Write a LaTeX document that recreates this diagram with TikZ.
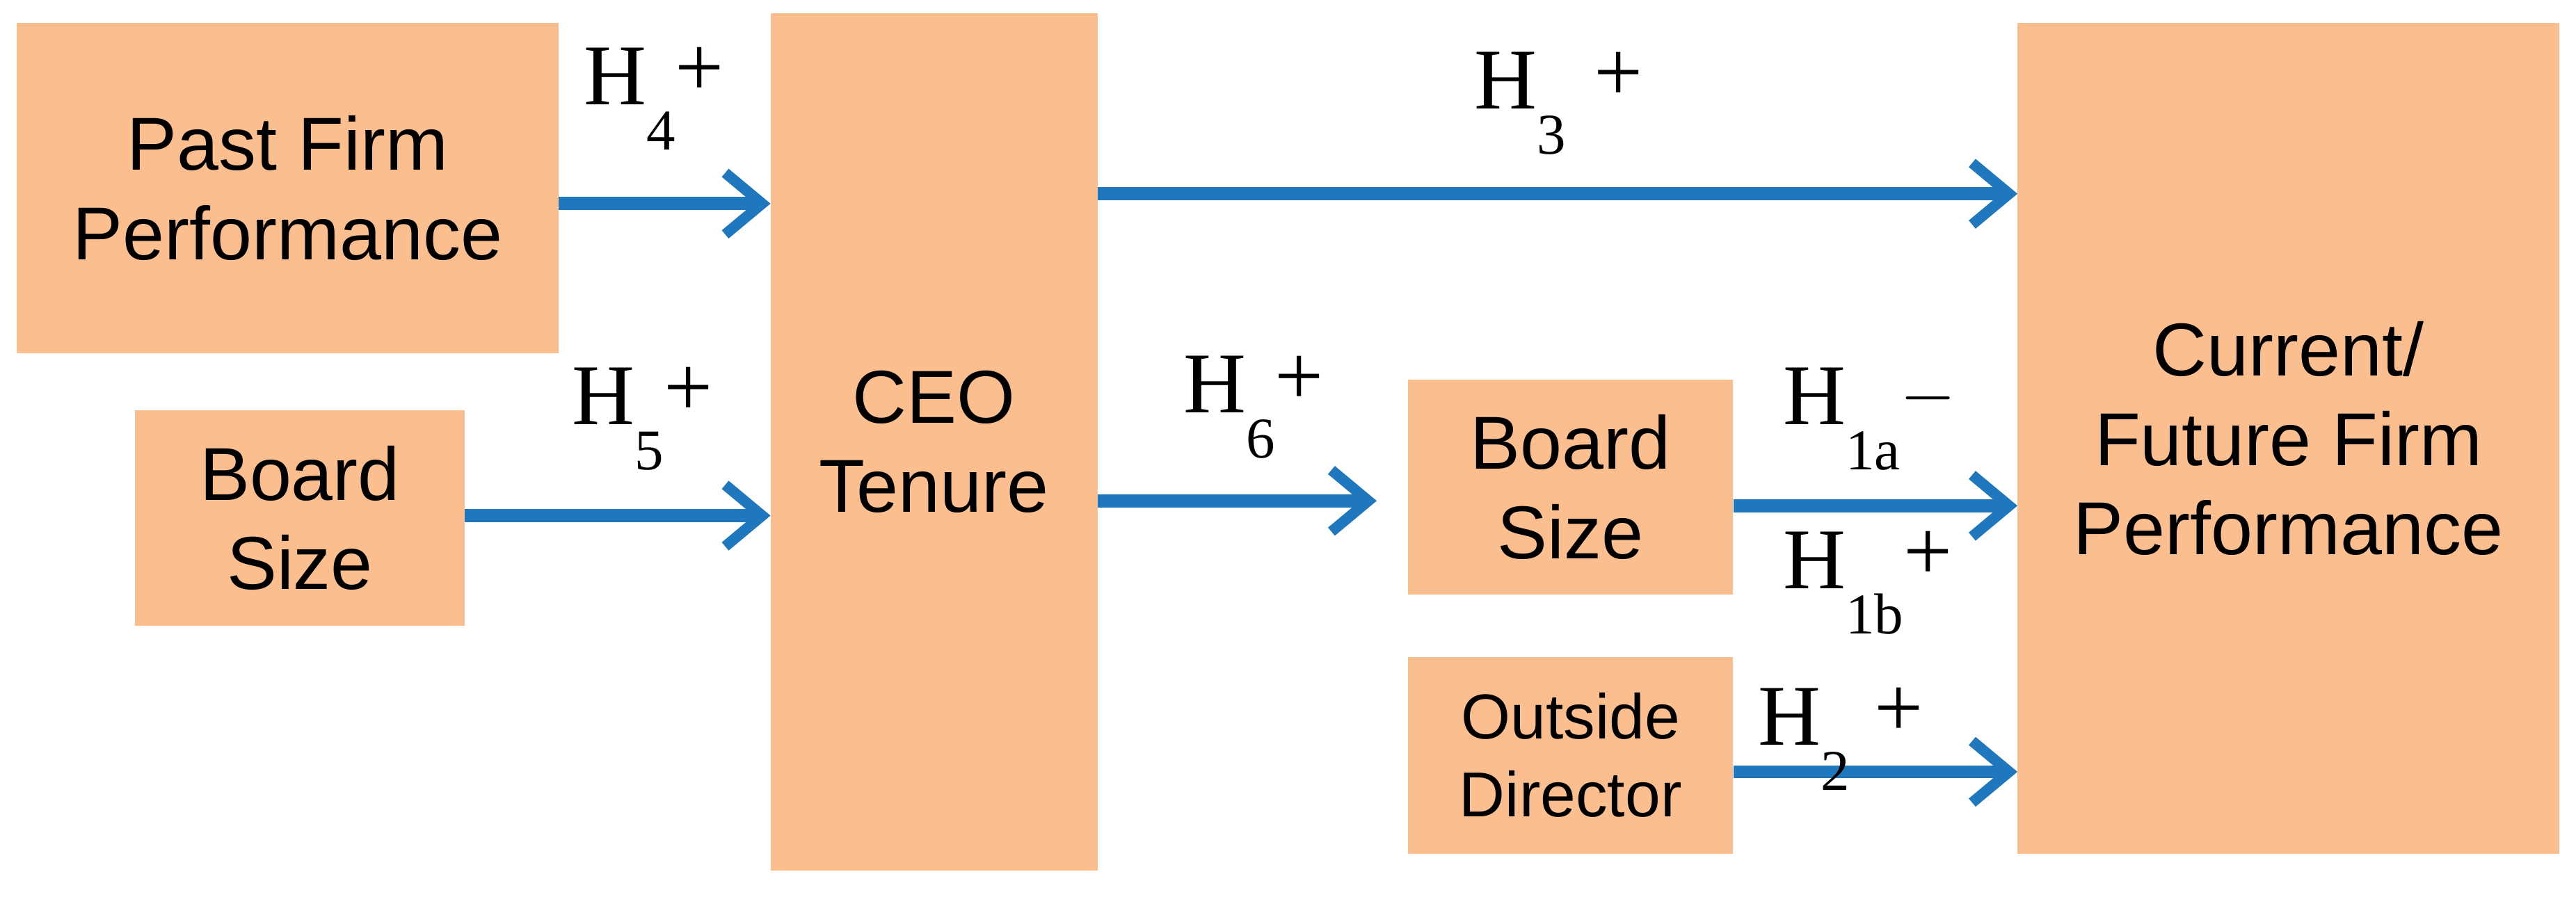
\documentclass[tikz,border=0pt]{standalone}
\usepackage{fontspec}
\setmainfont{Liberation Serif}
\newfontfamily\arial{Liberation Sans}
\begin{document}
\begin{tikzpicture}[x=0.02cm,y=-0.02cm,
 box/.style={fill={rgb,255:red,251;green,191;blue,143},draw=none,align=center,font=\arial\fontsize{26}{31}\selectfont,inner sep=0},
 arr/.style={draw={rgb,255:red,31;green,119;blue,190},line width=0.16cm,-{Straight Barb[length=0.45cm,width=0.75cm,line width=0.13cm]}},
 lab/.style={font=\fontsize{30}{30}\selectfont,inner sep=0}]
\usetikzlibrary{arrows.meta}
\useasboundingbox (0,0) rectangle (1568,546);
\newcommand{\hs}[2]{H\raisebox{-0.55cm}{\fontsize{20}{20}\selectfont #1}\raisebox{0.1cm}{#2}}
\node[box,minimum width=6.6cm,minimum height=4.02cm] (pf) at (175,114.5) {Past Firm\\Performance};
\node[box,minimum width=4.02cm,minimum height=2.62cm] (bs1) at (182.5,315.5) {Board\\Size};
\node[box,minimum width=3.98cm,minimum height=10.44cm] (ceo) at (568.5,269) {CEO\\Tenure};
\node[box,minimum width=3.96cm,minimum height=2.62cm] (bs2) at (956,296.5) {Board\\Size};
\node[box,minimum width=3.96cm,minimum height=2.4cm,font=\arial\fontsize{22}{27}\selectfont] (od) at (956,460) {Outside\\Director};
\node[box,minimum width=6.6cm,minimum height=10.12cm] (cf) at (1393,267) {Current/\\Future Firm\\Performance};
\coordinate (c1) at (469,124); \coordinate (c2) at (469,314);
\coordinate (c3) at (668,118); \coordinate (c4) at (668,305); \coordinate (c5) at (838,305);
\coordinate (c6) at (1228,118); \coordinate (c7) at (1055,308); \coordinate (c8) at (1228,308);
\coordinate (c9) at (1055,470); \coordinate (c10) at (1228,470);
\coordinate (c0) at (340,124); \coordinate (c00) at (283,314);
\draw[arr] (c0) -- (c1);
\draw[arr] (c00) -- (c2);
\draw[arr] (c3) -- (c6);
\draw[arr] (c4) -- (c5);
\draw[arr] (c7) -- (c8);
\draw[arr] (c9) -- (c10);
\node[lab,anchor=west] (h4) at (355,60) {\hs{4}{+}};
\node[lab,anchor=west] (h5) at (348,255) {\hs{5}{+}};
\node[lab,anchor=west] (h3) at (897,63) {\hs{3}{\hspace{0.35cm}+}};
\node[lab,anchor=west] (h6) at (720,248) {\hs{6}{+}};
\node[lab,anchor=west] (h1a) at (1085,255) {\hs{1a}{$-$}};
\node[lab,anchor=west] (h1b) at (1085,355) {\hs{1b}{+}};
\node[lab,anchor=west] (h2) at (1070,450) {\hs{2}{\hspace{0.3cm}+}};
\end{tikzpicture}
\end{document}
